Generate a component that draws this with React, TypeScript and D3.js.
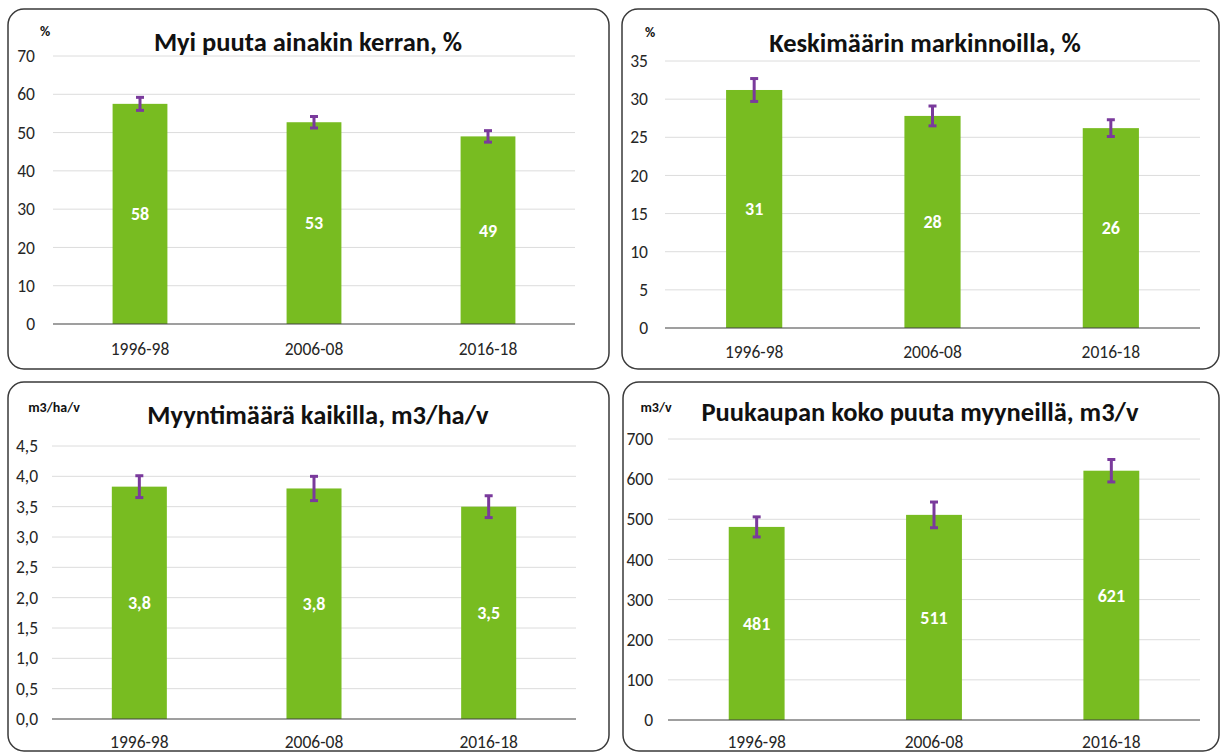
import React, { useEffect, useRef } from "react";
import * as d3 from "d3";

const categories = ["1996-98", "2006-08", "2016-18"];

const titles = [
  "Myi puuta ainakin kerran, %",
  "Keskimäärin markinnoilla, %",
  "Myyntimäärä kaikilla, m3/ha/v",
  "Puukaupan koko puuta myyneillä, m3/v",
];
const units = ["%", "%", "m3/ha/v", "m3/v"];

const soldShare = [57.5, 52.7, 49.0];
const soldShareErr = [1.7, 1.5, 1.5];
const onMarket = [31.2, 27.8, 26.2];
const onMarketErr = [1.5, 1.3, 1.1];
const volumeAll = [3.83, 3.8, 3.5];
const volumeAllErr = [0.18, 0.2, 0.18];
const volumeSellers = [481, 511, 621];
const volumeSellersErr = [25, 32, 28];

const yMax = [70, 35, 4.5, 700];
const yStep = [10, 5, 0.5, 100];
const decimals = [0, 0, 1, 0];

const GREEN = "#78bc21";
const PURPLE = "#7a3a9c";
const FONT = "Carlito, Lato, 'Open Sans', sans-serif";

const layouts = [
  { bx: 8, by: 9, bw: 601, bh: 360, l: 53, r: 575, t: 56, b: 324, ux: 45, uy: 31, tx: 308, ty: 42, lab: 18, xl: 25 },
  { bx: 622, by: 9, bw: 597, bh: 360, l: 665, r: 1200, t: 61, b: 328, ux: 650, uy: 32, tx: 925, ty: 43, lab: 17, xl: 24 },
  { bx: 8, by: 382, bw: 601, bh: 369, l: 52, r: 576, t: 446, b: 719, ux: 54, uy: 407, tx: 318, ty: 415, lab: 14, xl: 23 },
  { bx: 623, by: 382, bw: 596, bh: 369, l: 668, r: 1200, t: 439, b: 720, ux: 656, uy: 407, tx: 920, ty: 412, lab: 15, xl: 22 },
];

const comma = (v: number, d: number) => v.toFixed(d).replace(".", ",");

const App = () => {
  const svgRef = useRef<SVGSVGElement>(null);

  useEffect(() => {
    const series = [soldShare, onMarket, volumeAll, volumeSellers];
    const errs = [soldShareErr, onMarketErr, volumeAllErr, volumeSellersErr];

    const svg = d3.select(svgRef.current);
    svg.selectAll("*").remove();
    svg.style("font-family", FONT);

    layouts.forEach((lay, i) => {
      const g = svg.append("g");
      const values = series[i];
      const err = errs[i];

      g.append("rect")
        .attr("x", lay.bx).attr("y", lay.by)
        .attr("width", lay.bw).attr("height", lay.bh)
        .attr("rx", 16).attr("ry", 16)
        .attr("fill", "white")
        .attr("stroke", "#3a3a3a")
        .attr("stroke-width", 1.5);

      const x = d3.scaleBand()
        .domain(categories)
        .range([lay.l, lay.r])
        .paddingInner(0.685)
        .paddingOuter(0.3425);

      const y = d3.scaleLinear().domain([0, yMax[i]]).range([lay.b, lay.t]);
      const ticks = d3.range(0, yMax[i] + yStep[i] / 2, yStep[i]);

      // gridlines
      g.selectAll(".grid")
        .data(ticks.slice(1))
        .enter()
        .append("line")
        .attr("x1", lay.l).attr("x2", lay.r)
        .attr("y1", d => y(d)).attr("y2", d => y(d))
        .attr("stroke", "#dcdcdc")
        .attr("stroke-width", 1);

      // tick labels
      g.selectAll(".tick")
        .data(ticks)
        .enter()
        .append("text")
        .attr("x", lay.l - lay.lab)
        .attr("y", d => y(d))
        .attr("dy", "0.35em")
        .attr("text-anchor", "end")
        .attr("font-size", 17.5)
        .attr("fill", "#262626")
        .text(d => comma(d, decimals[i]));

      // bars
      g.selectAll(".bar")
        .data(values)
        .enter()
        .append("rect")
        .attr("x", (d, j) => x(categories[j])!)
        .attr("y", d => y(d))
        .attr("width", x.bandwidth())
        .attr("height", d => lay.b - y(d))
        .attr("fill", GREEN);

      // axis line
      g.append("line")
        .attr("x1", lay.l).attr("x2", lay.r)
        .attr("y1", lay.b).attr("y2", lay.b)
        .attr("stroke", "#404040")
        .attr("stroke-width", 1.2);

      // error bars
      const cx = (j: number) => x(categories[j])! + x.bandwidth() / 2;
      const eg = g.selectAll(".err")
        .data(values)
        .enter()
        .append("g")
        .attr("stroke", PURPLE)
        .attr("stroke-width", 3);
      eg.append("line")
        .attr("x1", (d, j) => cx(j)).attr("x2", (d, j) => cx(j))
        .attr("y1", (d, j) => y(d + err[j])).attr("y2", (d, j) => y(d - err[j]));
      eg.append("line")
        .attr("x1", (d, j) => cx(j) - 4).attr("x2", (d, j) => cx(j) + 4)
        .attr("y1", (d, j) => y(d + err[j])).attr("y2", (d, j) => y(d + err[j]));
      eg.append("line")
        .attr("x1", (d, j) => cx(j) - 4).attr("x2", (d, j) => cx(j) + 4)
        .attr("y1", (d, j) => y(d - err[j])).attr("y2", (d, j) => y(d - err[j]));

      // data labels
      g.selectAll(".lbl")
        .data(values)
        .enter()
        .append("text")
        .attr("x", (d, j) => cx(j))
        .attr("y", d => (y(d) + lay.b) / 2)
        .attr("dy", "0.35em")
        .attr("text-anchor", "middle")
        .attr("font-size", 18)
        .attr("font-weight", "bold")
        .attr("fill", "white")
        .text(d => comma(d, decimals[i]));

      // category labels
      g.selectAll(".cat")
        .data(categories)
        .enter()
        .append("text")
        .attr("x", d => x(d)! + x.bandwidth() / 2)
        .attr("y", lay.b + lay.xl)
        .attr("dy", "0.35em")
        .attr("text-anchor", "middle")
        .attr("font-size", 17.5)
        .attr("fill", "#262626")
        .text(d => d);

      g.append("text")
        .attr("x", lay.tx).attr("y", lay.ty)
        .attr("dy", "0.35em")
        .attr("text-anchor", "middle")
        .attr("font-size", 26.5)
        .attr("font-weight", "bold")
        .attr("fill", "#111")
        .text(titles[i]);

      g.append("text")
        .attr("x", lay.ux).attr("y", lay.uy)
        .attr("dy", "0.35em")
        .attr("text-anchor", "middle")
        .attr("font-size", 14)
        .attr("font-weight", "bold")
        .attr("fill", "#111")
        .text(units[i]);
    });
  }, []);

  return (
    <svg
      ref={svgRef}
      width={1221}
      height={752}
      style={{ position: "absolute", left: 0, top: 0, background: "white" }}
    />
  );
};

export default App;
